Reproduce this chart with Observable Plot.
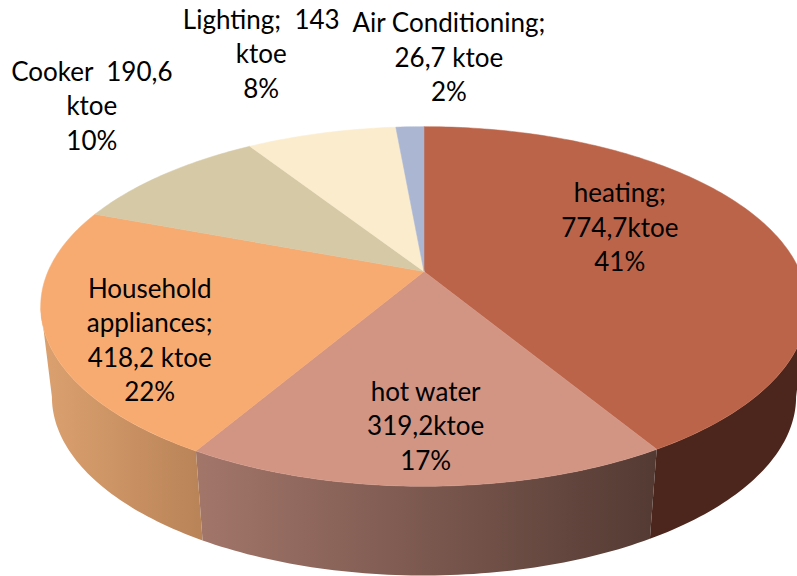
<!DOCTYPE html>
<html>
<head>
<meta charset="utf-8">
<style>html,body{margin:0;padding:0;background:#fff}svg{display:block}</style>
<script src="https://cdn.jsdelivr.net/npm/d3@7"></script>
<script src="https://cdn.jsdelivr.net/npm/@observablehq/plot@0.6"></script>
</head>
<body>
<div id="chart"></div>
<script>
// Data
const categories = ["heating", "hot water", "Household appliances", "Cooker", "Lighting", "Air Conditioning"];
const ktoe = [774.7, 319.2, 418.2, 190.6, 143, 26.7];
const labels = [
  "heating;\n774,7ktoe\n41%",
  "hot water\n319,2ktoe\n17%",
  "Household\nappliances;\n418,2 ktoe\n22%",
  "Cooker  190,6\nktoe\n10%",
  "Lighting;  143\nktoe\n8%",
  "Air Conditioning;\n26,7 ktoe\n2%"
];
// Styles
const topColors = ["#BC6449", "#D29583", "#F7AB71", "#D6C9A6", "#FBECCD", "#ABB6D3"];
const wallStops = [["#4C261C", "#4C261C"], ["#A3766A", "#533A33"], ["#DCA16F", "#B98358"]];
// Layout: where each label sits relative to its slice (radial reach, then nudge)
const labelReach = [0.6, 0.6, 0.6, 1, 1, 1];
const labelNudge = [[-15, -19], [0, 35], [-53, 31], [-72, -70], [-60, -81], [39, -71]];
// Perspective view of the disc
const topView = {cx: 423.5, cy: 271, rx: 376, ry: 173};
const baseView = {cx: 423.5, cy: 361.5, rx: 365, ry: 172};
const persp = 0.1944;
const rad = d => d * Math.PI / 180;

function project(view, deg, r = 1) {
  const c = Math.cos(rad(deg)), s = Math.sin(rad(deg));
  const k = 1 / (1 + persp * r * c);
  return {x: view.cx + view.rx * r * s * k, y: view.cy - view.ry * r * c * k};
}
const total = d3.sum(ktoe);
const cum = d3.cumsum(ktoe);
const slices = categories.map((name, i) => ({
  name, i,
  a0: (i ? cum[i - 1] : 0) / total * 360,
  a1: cum[i] / total * 360
}));
function arc(view, a0, a1) {
  const n = Math.max(2, Math.ceil(Math.abs(a1 - a0)));
  return d3.range(n + 1).map(j => project(view, a0 + (a1 - a0) * j / n));
}
const topPolygon = s => [{x: topView.cx, y: topView.cy}, ...arc(topView, s.a0, s.a1), {x: topView.cx, y: topView.cy}];
const wallPolygon = (a0, a1) => {
  const t = arc(topView, a0, a1), b = arc(baseView, a1, a0);
  return [...t, ...b, t[0]];
};
// Visible wall spans run to the disc's left and right silhouettes
const tangent = Math.acos(-persp) * 180 / Math.PI;
const wallSpans = [
  [tangent, slices[0].a1],
  [slices[1].a0, slices[1].a1],
  [slices[2].a0, 360 - tangent]
];
const labelRows = slices.map((s, i) => {
  const p = project(topView, (s.a0 + s.a1) / 2, labelReach[i]);
  return {x: p.x + labelNudge[i][0], y: p.y + labelNudge[i][1], text: labels[i]};
});

const defsMark = () => {
  const defs = d3.create("svg:defs");
  wallStops.forEach((stops, i) => {
    const g = defs.append("linearGradient").attr("id", "wall" + i);
    g.append("stop").attr("offset", 0).attr("stop-color", stops[0]);
    g.append("stop").attr("offset", 1).attr("stop-color", stops[1]);
  });
  return defs.node();
};

const plot = Plot.plot({
  width: 797,
  height: 576,
  margin: 0,
  style: {background: "#fff", fontFamily: "Lato, sans-serif"},
  x: {domain: [0, 797], range: [0, 797], axis: null},
  y: {domain: [0, 576], range: [0, 576], axis: null},
  marks: [
    defsMark,
    ...wallSpans.map((sp, i) => Plot.line(wallPolygon(sp[0], sp[1]), {
      x: "x", y: "y", fill: `url(#wall${i})`, stroke: "none", curve: "linear"
    })),
    ...slices.map((s, i) => Plot.line(topPolygon(s), {
      x: "x", y: "y", fill: topColors[i], stroke: topColors[i], strokeWidth: 0.5, curve: "linear"
    })),
    Plot.text(labelRows, {
      x: "x", y: "y", text: "text", fontSize: 26, lineHeight: 1.33,
      fill: "#000", textAnchor: "middle", lineAnchor: "middle"
    })
  ]
});
document.getElementById("chart").appendChild(plot);
</script>
</body>
</html>
